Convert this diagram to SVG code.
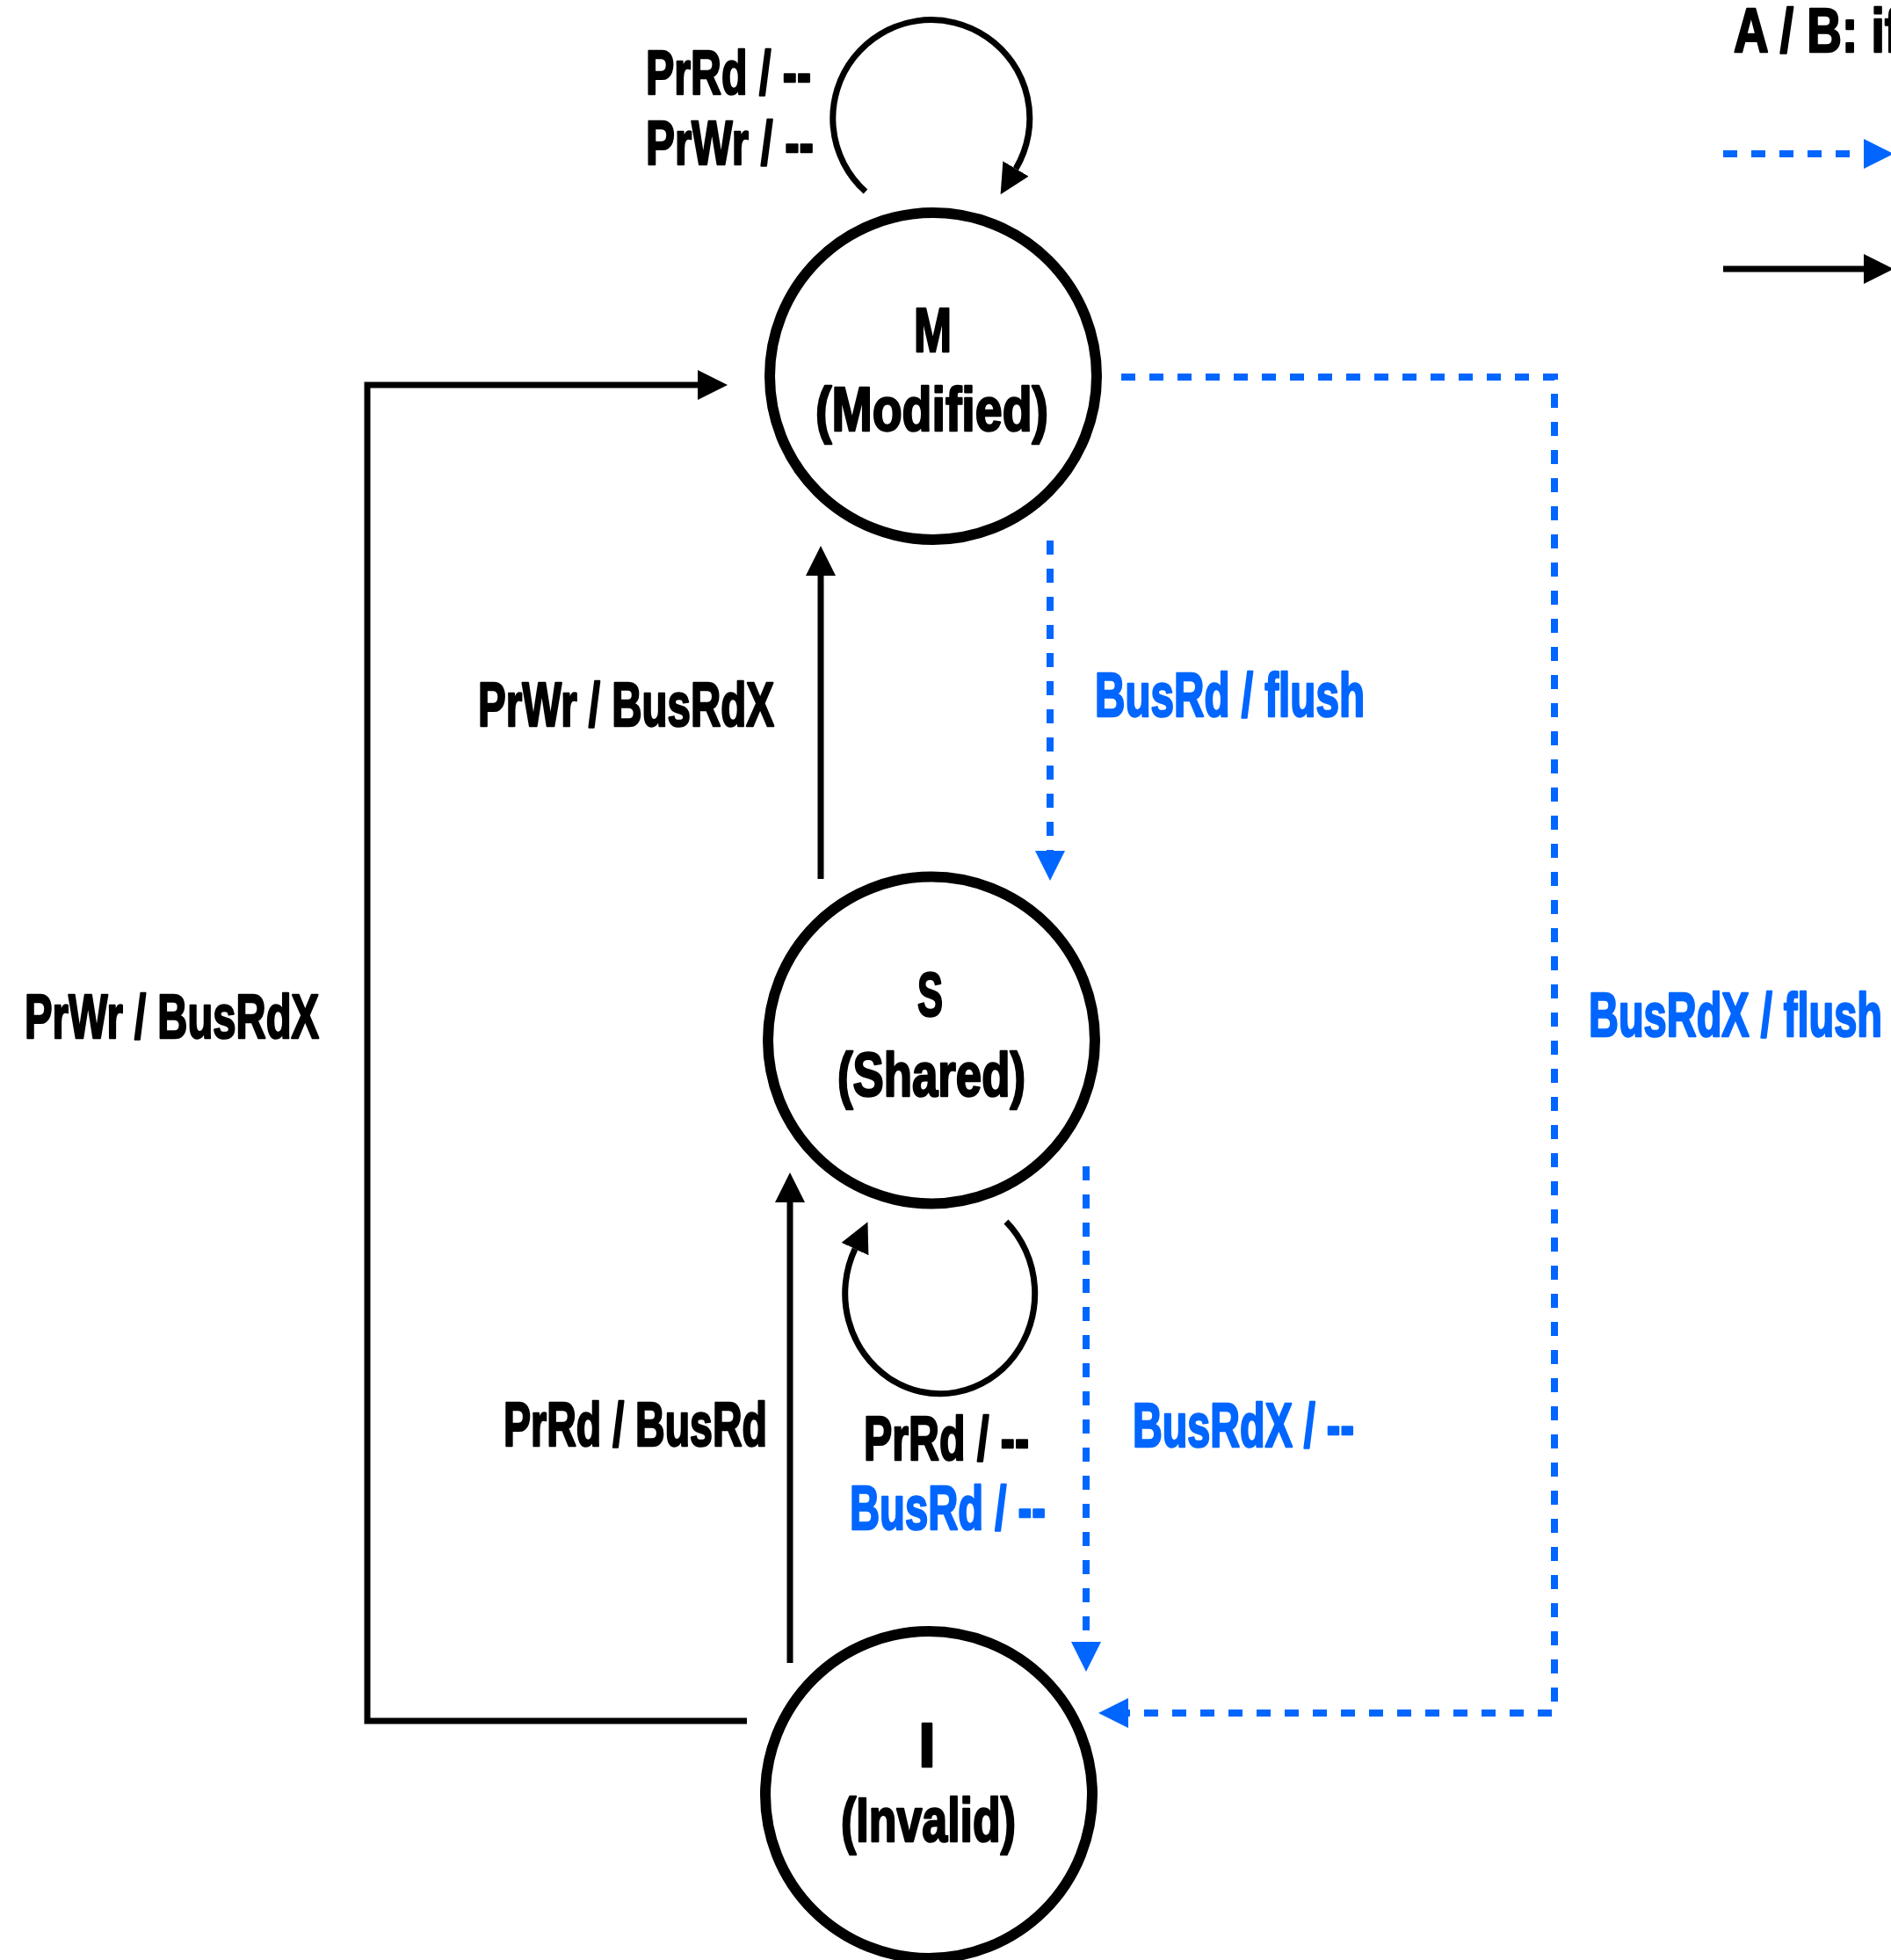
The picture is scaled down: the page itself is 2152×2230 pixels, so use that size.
<svg xmlns="http://www.w3.org/2000/svg" width="2152" height="2230" viewBox="0 0 2152 2230">
<style>
.node{fill:#fff;stroke:#000;stroke-width:12}
.t{font-family:"Liberation Sans",Arial,sans-serif;font-weight:bold;font-size:70px;fill:#000;stroke:#000;stroke-width:2.5;stroke-linejoin:round}
.b{fill:#0066ff;stroke:#0066ff}
.solid{fill:none;stroke:#000;stroke-width:7}
.dash{fill:none;stroke:#0066ff;stroke-width:8;stroke-dasharray:16 16}
</style>
<defs>
<marker id="ab" markerUnits="userSpaceOnUse" markerWidth="34" markerHeight="34" viewBox="0 0 34 34" refX="0" refY="17" orient="auto"><path d="M0,0 L34,17 L0,34 z" fill="#000"/></marker>
<marker id="au" markerUnits="userSpaceOnUse" markerWidth="34" markerHeight="34" viewBox="0 0 34 34" refX="0" refY="17" orient="auto"><path d="M0,0 L34,17 L0,34 z" fill="#0066ff"/></marker>
</defs>
<rect width="2152" height="2230" fill="#fff"/>
<g id="connectors">
<polyline class="solid" points="850,1958 418,1958 418,438 794,438" marker-end="url(#ab)"/>
<line class="solid" x1="934" y1="1000" x2="934" y2="655" marker-end="url(#ab)"/>
<line class="solid" x1="899" y1="1892" x2="899" y2="1368" marker-end="url(#ab)"/>
<path class="solid" d="M985,218 A112,112 0 1 1 1156,192" marker-end="url(#ab)"/>
<path class="solid" d="M1145,1390 A108,114 0 1 1 973,1421" marker-end="url(#ab)"/>
<line class="dash" x1="1195" y1="615" x2="1195" y2="968" marker-end="url(#au)"/>
<line class="dash" x1="1236" y1="1327" x2="1236" y2="1868" marker-end="url(#au)"/>
<polyline class="dash" points="1276,429 1769,429 1769,1949 1284,1949" marker-end="url(#au)"/>
<text class="t" x="735" y="107" textLength="188" lengthAdjust="spacingAndGlyphs">PrRd / --</text>
<text class="t" x="735" y="187" textLength="191" lengthAdjust="spacingAndGlyphs">PrWr / --</text>
<text class="t" x="544" y="826" textLength="337" lengthAdjust="spacingAndGlyphs">PrWr / BusRdX</text>
<text class="t" x="28" y="1181" textLength="335" lengthAdjust="spacingAndGlyphs">PrWr / BusRdX</text>
<text class="t b" x="1246" y="815" textLength="307" lengthAdjust="spacingAndGlyphs">BusRd / flush</text>
<text class="t b" x="1808" y="1179" textLength="334" lengthAdjust="spacingAndGlyphs">BusRdX / flush</text>
<text class="t" x="573" y="1645" textLength="300" lengthAdjust="spacingAndGlyphs">PrRd / BusRd</text>
<text class="t" x="983" y="1661" textLength="188" lengthAdjust="spacingAndGlyphs">PrRd / --</text>
<text class="t b" x="967" y="1740" textLength="223" lengthAdjust="spacingAndGlyphs">BusRd / --</text>
<text class="t b" x="1289" y="1646" textLength="252" lengthAdjust="spacingAndGlyphs">BusRdX / --</text>
</g>
<g id="node-M">
<circle class="node" cx="1062" cy="428" r="186"/>
<text class="t" x="1040" y="400" textLength="43" lengthAdjust="spacingAndGlyphs">M</text>
<text class="t" x="928" y="490" textLength="265" lengthAdjust="spacingAndGlyphs">(Modified)</text>
</g>
<g id="node-S">
<circle class="node" cx="1060" cy="1183.5" r="186"/>
<text class="t" x="1044" y="1156" textLength="29" lengthAdjust="spacingAndGlyphs">S</text>
<text class="t" x="953" y="1247" textLength="214" lengthAdjust="spacingAndGlyphs">(Shared)</text>
</g>
<g id="node-I">
<circle class="node" cx="1057" cy="2042" r="186"/>
<text class="t" x="1055" y="2010" text-anchor="middle">I</text>
<text class="t" x="957" y="2095" textLength="199" lengthAdjust="spacingAndGlyphs">(Invalid)</text>
</g>
<g id="legend">
<text class="t" x="1973" y="59" textLength="190" lengthAdjust="spacingAndGlyphs">A / B: if</text>
<line class="dash" x1="1961" y1="175" x2="2121" y2="175" marker-end="url(#au)"/>
<line class="solid" x1="1961" y1="306" x2="2121" y2="306" marker-end="url(#ab)"/>
</g>
</svg>
